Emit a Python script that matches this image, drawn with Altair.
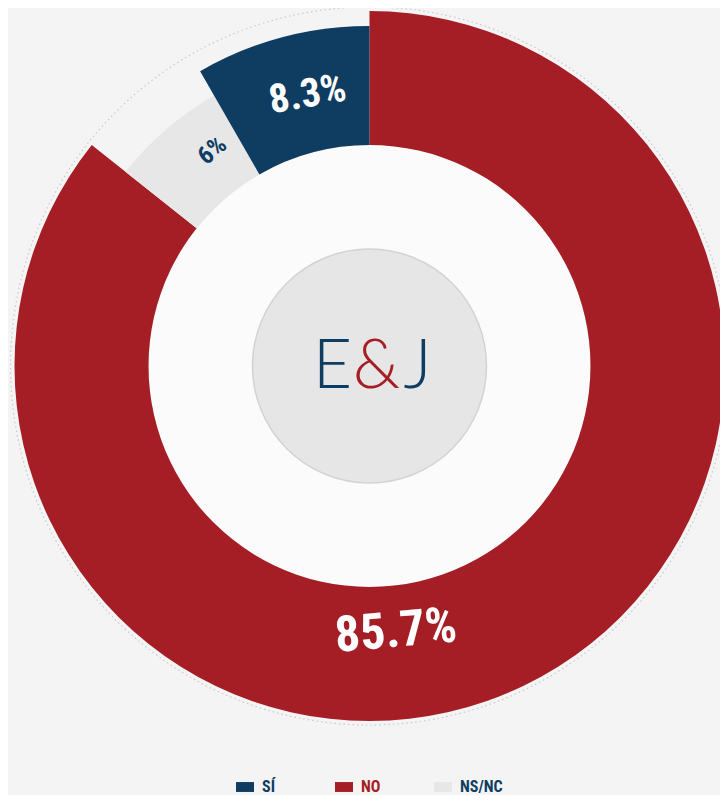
import math
import altair as alt
import pandas as pd

# ---- data ----
categories = ["NO", "NS/NC", "SÍ"]
values = [85.7, 6.0, 8.3]
labels = ["85.7%", "6%", "8.3%"]
legend_order = ["SÍ", "NO", "NS/NC"]
logo_parts = ["E", "&", "J"]

RED = "#a51d25"
BLUE = "#0f3c61"
LIGHT = "#e7e7e7"
NARROW = "Liberation Sans Narrow, Roboto Condensed, DejaVu Sans Condensed, Roboto, sans-serif"
TAU = 2 * math.pi

df = pd.DataFrame({"cat": categories, "value": values, "label": labels,
                   "idx": list(range(len(categories)))})
theta_scale = alt.Scale(domain=[0, 100], range=[0, TAU])
one = alt.Data(values=[{"k": 0}])

# cumulative start / end of every slice, computed by the library
stacked = alt.Chart(df).transform_window(
    cum="sum(value)", sort=[alt.SortField("idx", order="ascending")], frame=[None, 0]
).transform_calculate(start="datum.cum - datum.value")

# decorative dotted outline
dotted = alt.Chart(one).mark_arc(
    radius=359, theta=0, theta2=TAU, fillOpacity=0,
    stroke="#c9c9c9", strokeWidth=1.2, strokeDash=[1.5, 3]
).encode(opacity=alt.value(1))

# white hole of the donut
hole = alt.Chart(one).mark_arc(
    radius=222, theta=0, theta2=TAU, fill="#fbfbfb",
    stroke="#e2e2e2", strokeWidth=2
).encode(opacity=alt.value(1))

ring = stacked.transform_calculate(
    r="datum.cat === 'NO' ? 355 : (datum.cat === 'SÍ' ? 340 : 312)"
).mark_arc(radius2=221).encode(
    theta=alt.Theta("start:Q", stack=False, scale=theta_scale),
    theta2=alt.Theta2("cum:Q"),
    radius=alt.Radius("r:Q", scale=None),
    color=alt.Color(
        "cat:N",
        scale=alt.Scale(domain=legend_order, range=[BLUE, RED, LIGHT]),
        legend=alt.Legend(
            title=None, orient="none", direction="horizontal",
            legendX=217, legendY=770,
            symbolType="M-1,-0.55H1V0.55H-1Z", symbolSize=324,
            symbolStrokeWidth=0, symbolOpacity=1,
            labelFont=NARROW, labelFontSize=16, labelFontWeight="bold",
            labelColor=alt.ExprRef(expr="datum.label === 'NO' ? '%s' : '%s'" % (RED, BLUE)),
            labelOffset=8, columnPadding=30, gridAlign="all",
        ),
    ),
)

center_disc = alt.Chart(one).mark_arc(
    radius=117, theta=0, theta2=TAU, fill="#e6e6e6",
    stroke="#d3d3d3", strokeWidth=1.5
).encode(opacity=alt.value(1))

logo_layers = []
for part, col, off in zip(logo_parts, [BLUE, RED, BLUE], [-37, 7, 48]):
    logo_layers.append(
        alt.Chart(one).mark_text(
            text=part, font="Lato", fontWeight=300, fontSize=68,
            color=col, align="center", baseline="alphabetic", dx=off, dy=22
        ).encode(opacity=alt.value(1))
    )

value_labels = stacked.transform_calculate(
    frac="datum.cat === 'NO' ? 0.565 : (datum.cat === 'SÍ' ? 0.57 : 0.71)",
    pos="datum.start + datum.frac * datum.value",
    lr="datum.cat === 'NO' ? 267 : (datum.cat === 'SÍ' ? 278 : 267)",
    ang="datum.cat === 'NO' ? 355 : (datum.cat === 'SÍ' ? 350 : 320)",
    fs="datum.cat === 'NO' ? 50 : (datum.cat === 'SÍ' ? 40 : 25)",
    tc="datum.cat === 'NS/NC' ? '%s' : '#ffffff'" % BLUE,
).mark_text(font=NARROW, fontWeight="bold", align="center", baseline="middle").encode(
    theta=alt.Theta("pos:Q", stack=False, scale=theta_scale),
    radius=alt.Radius("lr:Q", scale=None),
    text=alt.Text("label:N"),
    angle=alt.Angle("ang:Q", scale=None),
    size=alt.Size("fs:Q", scale=None),
    color=alt.Color("tc:N", scale=None),
)

chart = alt.layer(
    dotted, hole, ring, center_disc, *logo_layers, value_labels
).properties(
    width=701, height=716,
    padding={"left": 11, "top": 0, "right": 0, "bottom": 71},
    autosize=alt.AutoSizeParams(type="none"),
    background="#f4f4f4",
).configure_view(strokeWidth=0)

chart.save("out.html", embed_options={"renderer": "svg", "actions": False})
